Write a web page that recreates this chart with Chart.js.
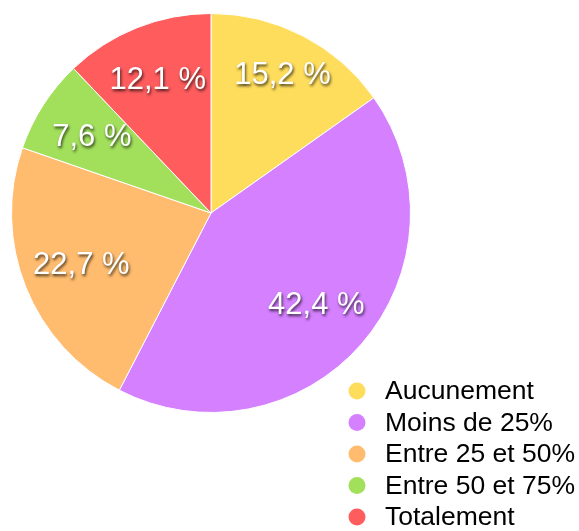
<!DOCTYPE html>
<html><head><meta charset="utf-8">
<script src="https://cdn.jsdelivr.net/npm/chart.js@4"></script>
<style>html,body{margin:0;padding:0;background:#fff}#wrap{width:579px;height:531px}</style>
</head><body><div id="wrap"><canvas id="c" width="579" height="531"></canvas></div>
<script>
const categories = ["Aucunement", "Moins de 25%", "Entre 25 et 50%", "Entre 50 et 75%", "Totalement"];
const values = [15.2, 42.4, 22.7, 7.6, 12.1];
const valueLabels = ["15,2 %", "42,4 %", "22,7 %", "7,6 %", "12,1 %"];
const colors = ["#FFDD5C", "#D580FF", "#FFBC6E", "#A2E05C", "#FF5C5E"];

const labelPlugin = {
  id: 'sliceLabels',
  afterDatasetsDraw(chart) {
    const ctx = chart.ctx;
    const meta = chart.getDatasetMeta(0);
    ctx.save();
    ctx.font = '31px "Liberation Sans", Arial, sans-serif';
    ctx.textAlign = 'center';
    ctx.textBaseline = 'middle';
    ctx.fillStyle = '#fff';
    ctx.shadowColor = 'rgba(0,0,0,0.75)';
    ctx.shadowOffsetX = 1;
    ctx.shadowOffsetY = 2;
    ctx.shadowBlur = 3;
    const ratios = [0.78, 0.70, 0.70, 0.71, 0.72];
    meta.data.forEach((arc, i) => {
      const mid = (arc.startAngle + arc.endAngle) / 2;
      const r = arc.outerRadius * ratios[i];
      ctx.fillText(valueLabels[i], arc.x + Math.cos(mid) * r, arc.y + Math.sin(mid) * r + 1);
    });
    ctx.restore();
  }
};

const legendPlugin = {
  id: 'customLegend',
  afterDraw(chart) {
    const ctx = chart.ctx;
    const ds = chart.data.datasets[0];
    ctx.save();
    ctx.font = '26.5px "Liberation Sans", Arial, sans-serif';
    ctx.textBaseline = 'middle';
    chart.data.labels.forEach((lab, i) => {
      const y = 391 + i * 31.5;
      ctx.fillStyle = ds.backgroundColor[i];
      ctx.beginPath();
      ctx.arc(357, y, 8.5, 0, Math.PI * 2);
      ctx.fill();
      ctx.fillStyle = '#000';
      ctx.fillText(lab, 385, y + 1);
    });
    ctx.restore();
  }
};

new Chart(document.getElementById('c'), {
  type: 'pie',
  data: {
    labels: categories,
    datasets: [{
      data: values,
      backgroundColor: colors,
      borderColor: '#ffffff',
      borderWidth: 1
    }]
  },
  options: {
    responsive: false,
    animation: false,
    layout: { padding: { left: 11, top: 13, right: 168, bottom: 118 } },
    plugins: { legend: { display: false }, tooltip: { enabled: false } }
  },
  plugins: [labelPlugin, legendPlugin]
});
</script></body></html>
